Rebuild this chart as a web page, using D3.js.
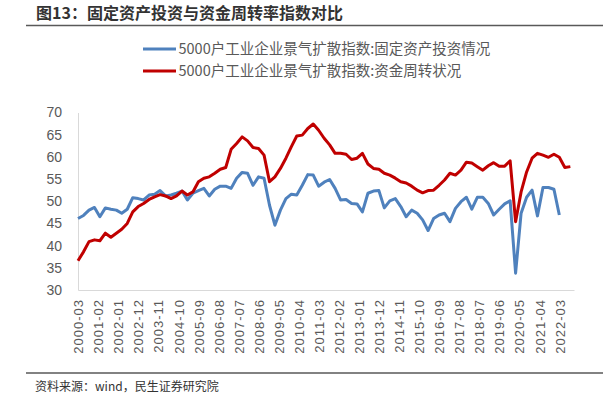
<!DOCTYPE html>
<html><head><meta charset="utf-8">
<script src="https://cdn.jsdelivr.net/npm/d3@7"></script>
<style>
html,body{margin:0;padding:0;background:#fff;}
svg{display:block;font-family:"Liberation Sans","Noto Sans CJK SC",sans-serif;}
</style></head>
<body><svg id="c" width="603" height="404"></svg>
<script>
const title = "图13：固定资产投资与资金周转率指数对比";
const source = "资料来源：wind，民生证券研究院";
const seriesNames = ["5000户工业企业景气扩散指数:固定资产投资情况","5000户工业企业景气扩散指数:资金周转状况"];
const startMonth = "2000-03"; // quarterly observations
const fixedInvest = [46.1,46.8,48.0,48.6,46.5,48.5,48.2,48.0,47.3,48.2,
50.8,50.6,50.3,51.4,51.6,52.4,51.2,51.4,51.8,52.3,
50.3,51.8,52.4,52.9,51.2,52.7,53.4,53.4,52.9,55.2,
56.5,56.3,53.6,55.5,55.2,49.1,44.6,48.0,50.6,51.6,
51.4,53.6,56.0,55.9,53.4,54.3,54.9,52.9,50.3,50.4,
49.5,49.4,47.6,51.8,52.3,52.4,48.5,50.1,50.6,48.8,
46.5,48.0,47.3,45.8,43.4,46.1,46.9,47.3,45.4,48.4,
49.9,50.9,48.2,50.9,50.9,49.5,46.9,48.2,49.4,50.1,
33.8,47.3,50.9,52.5,46.7,53.1,53.1,52.7,46.9];
const capitalTurnover = [36.6,38.6,40.9,41.3,41.1,42.8,41.9,42.8,43.7,45.0,
47.6,48.8,49.5,50.4,51.0,51.5,51.2,50.6,51.2,52.3,
51.4,52.1,54.4,55.2,55.5,56.3,57.2,57.6,61.7,63.0,
64.5,63.6,62.1,61.9,60.4,54.4,55.5,57.4,59.7,62.3,
64.7,64.9,66.4,67.4,66.0,64.2,62.7,60.8,60.8,60.6,
59.4,59.7,60.8,58.4,57.4,57.2,56.3,55.9,55.2,54.4,
54.1,53.4,52.5,51.9,52.4,52.5,53.6,54.8,56.3,55.9,
57.0,58.8,58.6,57.8,57.0,58.0,58.7,57.9,57.9,59.1,
45.4,52.1,56.6,59.7,60.8,60.4,59.9,60.6,59.9,57.6,57.8];
const xTickLabels = ["2000-03","2001-02","2002-01","2002-12","2003-11","2004-10","2005-09","2006-08","2007-07","2008-06","2009-05","2010-04","2011-03","2012-02","2013-01","2013-12","2014-11","2015-10","2016-09","2017-08","2018-07","2019-06","2020-05","2021-04","2022-03"];
const yTicks = [30,35,40,45,50,55,60,65,70];
const colors = ["#4F81BD","#C00000"];

const parse = d3.timeParse("%Y-%m");
const fmt = d3.timeFormat("%Y-%m");
const t0 = parse(startMonth);
const dates = d3.range(capitalTurnover.length).map(i => d3.timeMonth.offset(t0, i*3));

const svg = d3.select("#c");
const x = d3.scaleTime().domain([t0, parse("2022-11")]).range([78, 574]);
const y = d3.scaleLinear().domain([30, 70]).range([290, 112.5]);

// title
svg.append("text").attr("x",36).attr("y",19).attr("font-size",16).attr("font-weight","bold")
  .attr("fill","#333").attr("font-family","Noto Sans CJK SC, sans-serif").text(title);
svg.append("line").attr("x1",26).attr("x2",603).attr("y1",25.5).attr("y2",25.5)
  .attr("stroke","#595959").attr("stroke-width",1.5);

// legend
seriesNames.forEach((n,i)=>{
  const ly = 49 + i*22;
  svg.append("line").attr("x1",143).attr("x2",176).attr("y1",ly).attr("y2",ly)
    .attr("stroke",colors[i]).attr("stroke-width",3);
  svg.append("text").attr("x",178.5).attr("y",ly).attr("dy","0.35em").attr("font-size",14.5)
    .attr("fill","#595959").attr("font-family","Noto Sans CJK SC, sans-serif").text(n);
});

// axes
const yAxis = d3.axisLeft(y).tickValues(yTicks).tickSize(0).tickPadding(10);
const gy = svg.append("g").attr("transform","translate(78,0)").call(yAxis);
gy.select(".domain").attr("stroke","#D9D9D9").attr("stroke-width",1);
gy.selectAll("text").attr("font-size",14).attr("fill","#595959").attr("x",-16);

const xAxis = d3.axisBottom(x).tickValues(xTickLabels.map(parse)).tickFormat(fmt).tickSize(0);
const gx = svg.append("g").attr("transform","translate(0,290)").call(xAxis);
gx.select(".domain").attr("stroke","#D9D9D9").attr("stroke-width",1);
gx.selectAll("text").attr("font-size",13).attr("fill","#595959")
  .attr("letter-spacing","1px")
  .attr("transform","rotate(-90)").attr("text-anchor","end")
  .attr("x",-9).attr("y",0).attr("dy","0.36em");

// lines
const line = d3.line().x((d,i)=>x(dates[i])).y(d=>y(d)).curve(d3.curveLinear);
[fixedInvest, capitalTurnover].forEach((s,i)=>{
  svg.append("path").datum(s).attr("d",line).attr("fill","none")
    .attr("stroke",colors[i]).attr("stroke-width",3).attr("stroke-linejoin","round");
});
// redraw red on top? keep order: blue first, red over
// bottom separator + source
svg.append("line").attr("x1",26).attr("x2",603).attr("y1",373).attr("y2",373)
  .attr("stroke","#595959").attr("stroke-width",1.5);
svg.append("text").attr("x",35).attr("y",391).attr("font-size",12).attr("fill","#333")
  .attr("font-family","Noto Sans CJK SC, sans-serif").text(source);
</script></body></html>
